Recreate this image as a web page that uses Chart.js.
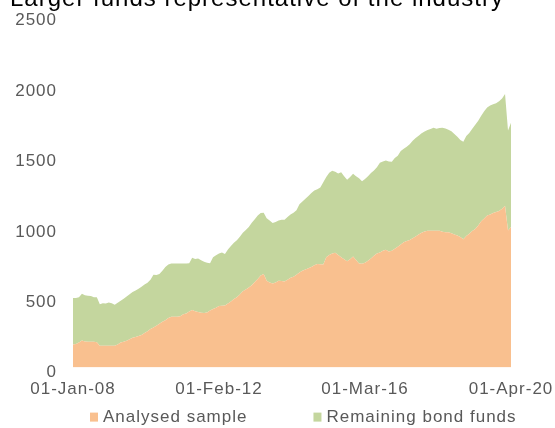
<!DOCTYPE html>
<html>
<head>
<meta charset="utf-8">
<script src="https://cdn.jsdelivr.net/npm/chart.js@4"></script>
<style>
  html, body { margin: 0; padding: 0; background: #fff; overflow: hidden; }
  body { width: 555px; height: 428px; position: relative; }
  #wrap { position: absolute; left: 0; top: -15px; width: 555px; height: 443px; }
</style>
</head>
<body>
<div id="wrap"><canvas id="chart"></canvas></div>
<script>
// monthly, Jan 2008 .. Apr 2020
const monthNames = ['Jan','Feb','Mar','Apr','May','Jun','Jul','Aug','Sep','Oct','Nov','Dec'];
const firstYear = 2008;
const monthCount = 148;
const tickLabels = ['01-Jan-08', '01-Feb-12', '01-Mar-16', '01-Apr-20'];

const analysedSample = [
  165, 168, 178, 192, 185, 183, 183, 183, 180, 155,
  155, 155, 155, 155, 156, 165, 178, 183, 190, 202,
  212, 218, 224, 232, 245, 258, 275, 285, 297, 312,
  325, 337, 352, 362, 362, 362, 365, 380, 385, 398,
  410, 400, 395, 390, 388, 392, 405, 416, 425, 437,
  440, 442, 455, 470, 488, 500, 520, 542, 555, 570,
  585, 608, 630, 655, 665, 618, 605, 598, 605, 618,
  615, 612, 625, 638, 645, 660, 675, 688, 697, 706,
  715, 728, 736, 735, 732, 785, 800, 810, 817, 800,
  785, 770, 755, 770, 790, 765, 740, 738, 745, 760,
  775, 795, 810, 818, 830, 838, 825, 830, 845, 858,
  874, 890, 900, 907, 920, 932, 945, 958, 968, 973,
  973, 973, 973, 973, 965, 962, 962, 955, 945, 938,
  928, 912, 935, 952, 970, 985, 1010, 1040, 1060, 1080,
  1088, 1098, 1105, 1112, 1128, 1148, 975, 1000
];

const remainingFunds = [
  330, 327, 322, 333, 330, 327, 325, 317, 320, 295,
  303, 300, 307, 303, 291, 295, 297, 307, 315, 320,
  326, 330, 336, 343, 345, 345, 350, 375, 361, 353,
  363, 378, 380, 378, 378, 378, 375, 360, 355, 344,
  370, 372, 380, 372, 364, 353, 337, 369, 373, 373,
  378, 366, 385, 395, 400, 405, 410, 416, 423, 430,
  445, 447, 450, 443, 435, 444, 440, 430, 430, 427,
  435, 438, 445, 450, 455, 458, 485, 492, 503, 514,
  525, 530, 532, 545, 585, 570, 585, 588, 575, 580,
  603, 590, 580, 585, 587, 595, 605, 587, 595, 600,
  608, 605, 614, 637, 635, 634, 640, 632, 645, 647,
  666, 665, 670, 681, 692, 700, 703, 707, 710, 715,
  722, 732, 724, 729, 740, 738, 728, 725, 715, 702,
  690, 693, 710, 716, 728, 740, 745, 750, 762, 768,
  775, 774, 773, 780, 784, 797, 710, 740
];

const labels = [];
for (let i = 0; i < monthCount; i++) {
  const y = firstYear + Math.floor(i / 12);
  labels.push('01-' + monthNames[i % 12] + '-' + String(y).slice(2));
}

const grey = '#595959';
const fontFamily = '"Liberation Sans", Arial, sans-serif';
const font = { family: fontFamily, size: 17 };

// Excel-ish wide text spacing, set again after every canvas resize
const spacing = {
  id: 'spacing',
  beforeUpdate(chart) { chart.ctx.letterSpacing = '1px'; },
  beforeDraw(chart) { chart.ctx.letterSpacing = '1px'; }
};

// legend under the axis, wide gap between the two items
const bottomLegend = {
  id: 'bottomLegend',
  afterDraw(chart) {
    const ctx = chart.ctx;
    const box = 8, gap = 5, between = 66;
    ctx.save();
    ctx.letterSpacing = '1px';
    ctx.font = '17px ' + fontFamily;
    ctx.textBaseline = 'middle';
    let x = chart.chartArea.left + 17;
    const y = chart.chartArea.bottom + 50;
    chart.data.datasets.forEach(ds => {
      ctx.fillStyle = ds.backgroundColor;
      ctx.fillRect(x, y - 5, box, box + 1);
      x += box + gap;
      ctx.fillStyle = grey;
      ctx.fillText(ds.label, x, y);
      x += ctx.measureText(ds.label).width + between;
    });
    ctx.restore();
  }
};

new Chart(document.getElementById('chart'), {
  type: 'line',
  data: {
    labels: labels,
    datasets: [
      {
        label: 'Analysed sample',
        data: analysedSample,
        backgroundColor: '#F9C08F',
        borderWidth: 0,
        pointRadius: 0,
        fill: 'origin',
        tension: 0
      },
      {
        label: 'Remaining bond funds',
        data: remainingFunds,
        backgroundColor: '#C4D69E',
        borderWidth: 0,
        pointRadius: 0,
        fill: '-1',
        tension: 0
      }
    ]
  },
  plugins: [spacing, bottomLegend],
  options: {
    responsive: true,
    maintainAspectRatio: false,
    animation: false,
    layout: { padding: { left: 10, right: 0, top: 0, bottom: 16 } },
    plugins: {
      title: {
        display: true,
        text: 'Larger funds representative of the industry',
        align: 'start',
        color: '#000',
        font: { family: fontFamily, size: 24, weight: 'normal' },
        padding: { top: 0, bottom: 2 }
      },
      legend: { display: false },
      tooltip: { enabled: false }
    },
    scales: {
      x: {
        grid: { display: false, drawTicks: false },
        border: { display: false },
        ticks: {
          color: grey,
          font: font,
          autoSkip: false,
          maxRotation: 0,
          padding: 12,
          callback: function (value, index) {
            return tickLabels.includes(labels[index]) ? labels[index] : null;
          }
        },
        afterFit: s => { s.paddingLeft = 44; s.paddingRight = 44; }
      },
      y: {
        stacked: true,
        min: 0,
        max: 2500,
        grid: { display: false, drawTicks: false },
        border: { display: false },
        ticks: {
          color: grey,
          font: font,
          stepSize: 500,
          padding: 16,
          labelOffset: 5,
          callback: v => String(v)
        },
        afterFit: s => { s.width = 63; }
      }
    }
  }
});
</script>
</body>
</html>
